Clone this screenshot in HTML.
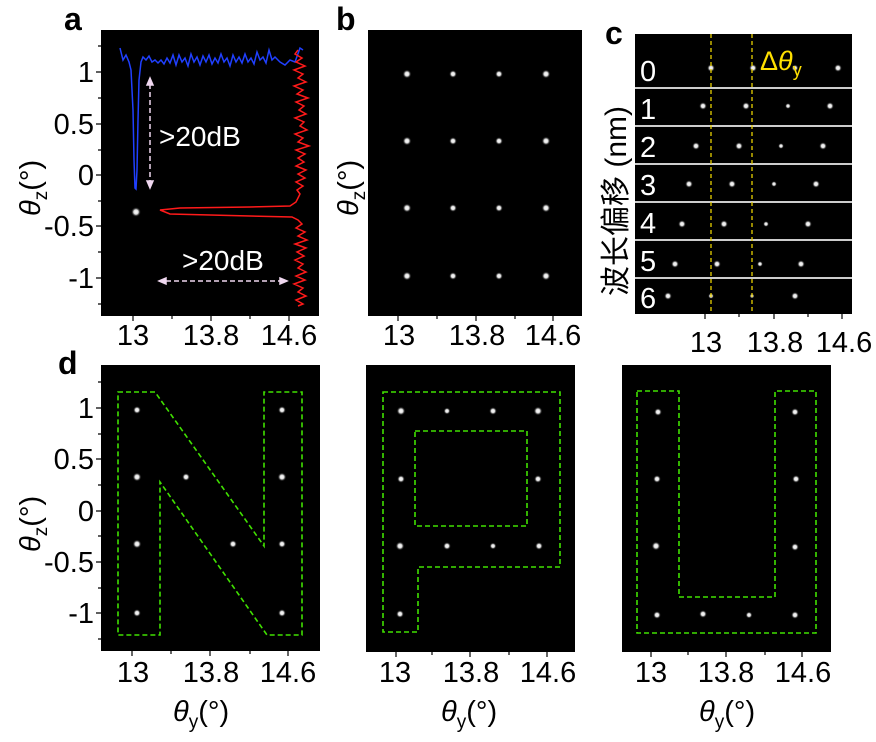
<!DOCTYPE html>
<html><head><meta charset="utf-8"><style>
html,body{margin:0;padding:0;background:#fff}
svg{display:block}
text{font-family:"Liberation Sans","Noto Sans CJK SC",sans-serif}
</style></head><body>
<svg width="876" height="742" viewBox="0 0 876 742" xmlns="http://www.w3.org/2000/svg">
<defs>
<radialGradient id="sp"><stop offset="0" stop-color="#fff"/><stop offset="0.45" stop-color="#ddd"/><stop offset="1" stop-color="#000" stop-opacity="0"/></radialGradient>
</defs>
<g font-weight="bold" font-size="32" fill="#000">
<text x="64" y="30">a</text><text x="336" y="30">b</text><text x="605" y="44">c</text><text x="58" y="374">d</text>
</g>
<rect x="101" y="30" width="218" height="286" fill="#000"/>
<rect x="368" y="30" width="214" height="286" fill="#000"/>
<rect x="635" y="34" width="217" height="280" fill="#000"/>
<rect x="101" y="365" width="219" height="286" fill="#000"/>
<rect x="366" y="365" width="209" height="287" fill="#000"/>
<rect x="622" y="365" width="209" height="287" fill="#000"/>

<g font-size="29" fill="#000" text-anchor="end">
<text x="94" y="82">1</text><text x="94" y="134">0.5</text><text x="94" y="185">0</text><text x="94" y="236">-0.5</text><text x="94" y="288">-1</text>
<text x="94" y="418">1</text><text x="94" y="469">0.5</text><text x="94" y="521">0</text><text x="94" y="572">-0.5</text><text x="94" y="623">-1</text>
</g>
<g stroke="#000" stroke-width="1.2">
<path d="M101 72h-5M101 124h-5M101 175h-5M101 226h-5M101 278h-5M101 98h-3M101 150h-3M101 201h-3M101 252h-3M101 304h-3M101 46h-3"/>
<path d="M101 408h-5M101 459h-5M101 511h-5M101 562h-5M101 613h-5M101 434h-3M101 485h-3M101 536h-3M101 588h-3M101 639h-3M101 382h-3"/>
<path d="M133 316v5M172 316v3M211 316v5M250 316v3M289 316v5"/>
<path d="M398 316v5M437 316v3M476 316v5M515 316v3M553 316v5"/>
<path d="M705 314v5M739 314v3M774 314v5M808 314v3M842 314v5"/>
<path d="M132 651v5M171 651v3M210 651v5M250 651v3M288 651v5"/>
<path d="M396 652v5M432 652v3M470 652v5M509 652v3M547 652v5"/>
<path d="M651 652v5M688 652v3M726 652v5M765 652v3M802 652v5"/>
</g>
<g font-size="29" fill="#000" text-anchor="middle">
<text x="133" y="345">13</text><text x="211" y="345">13.8</text><text x="289" y="345">14.6</text>
<text x="399" y="345">13</text><text x="477" y="345">13.8</text><text x="553" y="345">14.6</text>
<text x="706" y="352">13</text><text x="775" y="352">13.8</text><text x="844" y="352">14.6</text>
<text x="133" y="682">13</text><text x="211" y="682">13.8</text><text x="288" y="682">14.6</text>
<text x="395" y="682">13</text><text x="471" y="682">13.8</text><text x="548" y="682">14.6</text>
<text x="651" y="682">13</text><text x="726" y="682">13.8</text><text x="803" y="682">14.6</text>
</g>
<g font-size="29" fill="#000">
<text x="173" y="721"><tspan font-style="italic">θ</tspan><tspan font-size="19" dy="7">y</tspan><tspan dy="-7">(°)</tspan></text>
<text x="441" y="721"><tspan font-style="italic">θ</tspan><tspan font-size="19" dy="7">y</tspan><tspan dy="-7">(°)</tspan></text>
<text x="699" y="721"><tspan font-style="italic">θ</tspan><tspan font-size="19" dy="7">y</tspan><tspan dy="-7">(°)</tspan></text>
<text transform="translate(40 216) rotate(-90)"><tspan font-style="italic">θ</tspan><tspan font-size="19" dy="7">z</tspan><tspan dy="-7">(°)</tspan></text>
<text transform="translate(358 216) rotate(-90)"><tspan font-style="italic">θ</tspan><tspan font-size="19" dy="7">z</tspan><tspan dy="-7">(°)</tspan></text>
<text transform="translate(40 552) rotate(-90)"><tspan font-style="italic">θ</tspan><tspan font-size="19" dy="7">z</tspan><tspan dy="-7">(°)</tspan></text>
<text transform="translate(626 296) rotate(-90)" font-size="30">波长偏移 (nm)</text>
</g>

<circle cx="136" cy="212" r="5" fill="url(#sp)"/>
<polyline fill="none" stroke="#2040ff" stroke-width="1.5" points="120,48 123,60 126,55 129,62 131,70 133,110 134,160 135,188 136,189 137,170 138,120 139,80 141,62 143,57 146,60 149,56 152,62 155,60 158,63 161,60 164,64 167,58 170,63 173,55 176,65 179,55 182,62 185,58 188,66 191,54 194,62 197,57 200,65 203,56 206,62 209,55 212,64 215,58 218,63 221,54 224,62 227,58 230,66 233,55 236,62 239,57 242,63 245,54 248,62 251,58 254,64 257,52 260,60 263,57 266,63 269,50 272,60 275,57 280,62 285,65 290,60 295,62 300,48 303,50"/>
<polyline fill="none" stroke="#ff1a1a" stroke-width="1.5" points="298,50 295,54 302,58 296,62 305,66 294,70 303,74 298,78 306,82 294,86 303,90 297,94 308,98 296,102 304,106 299,110 306,114 295,118 304,122 300,126 307,130 295,134 303,138 298,142 309,146 296,150 305,154 298,158 304,162 296,166 306,170 298,174 305,178 296,182 303,186 297,190 300,194 298,198 296,202 290,206 250,207 180,208 160,210 170,214 250,216 292,217 298,220 302,224 296,228 305,232 298,236 307,240 295,244 306,248 297,252 304,256 295,260 303,264 298,268 306,272 296,276 305,280 294,284 303,288 298,292 306,296 296,300 303,304 298,306"/>
<g stroke="#f0d8f0" stroke-width="1.5" fill="#f0d8f0">
<path d="M150 84V182" stroke-dasharray="5,3"/>
<path d="M150 78l-3 7h6zM150 188l-3 -7h6z"/>
<path d="M166 281H280" stroke-dasharray="5,3"/>
<path d="M159 281l7 -3v6zM287 281l-7 -3v6z"/>
</g>
<g font-size="28" fill="#fff"><text x="159" y="146">&gt;20dB</text><text x="182" y="270">&gt;20dB</text></g>

<g fill="url(#sp)">
<circle cx="407" cy="74" r="4.5"/><circle cx="453" cy="74" r="4"/><circle cx="499" cy="74" r="4"/><circle cx="546" cy="74" r="4.5"/>
<circle cx="407" cy="141" r="4.5"/><circle cx="453" cy="141" r="4"/><circle cx="499" cy="141" r="4"/><circle cx="546" cy="141" r="4.5"/>
<circle cx="407" cy="208" r="4.5"/><circle cx="453" cy="208" r="4"/><circle cx="499" cy="208" r="4"/><circle cx="546" cy="208" r="4.5"/>
<circle cx="407" cy="276" r="4.5"/><circle cx="453" cy="276" r="4"/><circle cx="499" cy="276" r="4"/><circle cx="546" cy="276" r="4.5"/>
</g>

<g stroke="#ccc" stroke-width="2"><path d="M635 88H852M635 126H852M635 164H852M635 202H852M635 240H852M635 278H852"/></g>
<g font-size="29" fill="#fff"><text x="640" y="81">0</text><text x="640" y="119">1</text><text x="640" y="157">2</text><text x="640" y="195">3</text><text x="640" y="233">4</text><text x="640" y="271">5</text><text x="640" y="308">6</text></g>
<g fill="url(#sp)">
<circle cx="711" cy="68" r="4"/><circle cx="753" cy="68" r="4"/><circle cx="795" cy="68" r="3.5"/><circle cx="838" cy="68" r="4"/>
<circle cx="703" cy="106" r="4"/><circle cx="746" cy="106" r="4"/><circle cx="788" cy="106" r="3"/><circle cx="830" cy="106" r="4"/>
<circle cx="696" cy="146" r="4"/><circle cx="739" cy="146" r="4"/><circle cx="781" cy="146" r="3"/><circle cx="823" cy="146" r="4"/>
<circle cx="689" cy="184" r="4"/><circle cx="732" cy="184" r="4"/><circle cx="774" cy="184" r="3"/><circle cx="816" cy="184" r="4"/>
<circle cx="682" cy="224" r="4"/><circle cx="724" cy="224" r="4"/><circle cx="766" cy="224" r="3"/><circle cx="808" cy="224" r="4"/>
<circle cx="675" cy="264" r="4"/><circle cx="717" cy="264" r="4"/><circle cx="760" cy="264" r="3"/><circle cx="801" cy="264" r="4"/>
<circle cx="668" cy="296" r="4"/><circle cx="711" cy="296" r="3"/><circle cx="752" cy="296" r="2.5"/><circle cx="795" cy="296" r="4"/>
</g>
<g stroke="#e8d000" stroke-width="1.3" stroke-dasharray="4,3"><path d="M711 34V314M752 34V314"/></g>
<text x="760" y="70" font-size="27" fill="#ffe000">Δ<tspan font-style="italic">θ</tspan><tspan font-size="18" dy="6">y</tspan></text>

<g fill="url(#sp)">
<circle cx="137" cy="410" r="4"/><circle cx="137" cy="477" r="4.5"/><circle cx="137" cy="544" r="4.5"/><circle cx="137" cy="613" r="4"/>
<circle cx="186" cy="477" r="4"/><circle cx="233" cy="544" r="4"/>
<circle cx="282" cy="410" r="4"/><circle cx="282" cy="477" r="4.5"/><circle cx="282" cy="544" r="4"/><circle cx="282" cy="613" r="4"/>
<circle cx="401" cy="411" r="4.5"/><circle cx="447" cy="411" r="3.5"/><circle cx="493" cy="411" r="4"/><circle cx="538" cy="411" r="4.5"/>
<circle cx="401" cy="479" r="4"/><circle cx="538" cy="479" r="4"/>
<circle cx="400" cy="546" r="4.5"/><circle cx="447" cy="546" r="4"/><circle cx="493" cy="546" r="3.5"/><circle cx="539" cy="546" r="4"/>
<circle cx="400" cy="614" r="4"/>
<circle cx="658" cy="412" r="4"/><circle cx="795" cy="412" r="4"/>
<circle cx="657" cy="479" r="4"/><circle cx="796" cy="479" r="4"/>
<circle cx="656" cy="546" r="4.5"/><circle cx="795" cy="547" r="4"/>
<circle cx="657" cy="615" r="4"/><circle cx="703" cy="614" r="4"/><circle cx="749" cy="615" r="3.5"/><circle cx="795" cy="615" r="4"/>
</g>
<g fill="none" stroke="#40e000" stroke-width="1.6" stroke-dasharray="5,3">
<path d="M118 392H155L264 546V392H302V635H267L160 482V635H118Z"/>
<path d="M383 392H560V567H418V632H383Z"/>
<path d="M415 431H527V526H415Z"/>
<path d="M637 391H679V597H775V391H816V633H637Z"/>
</g>
</svg>
</body></html>
